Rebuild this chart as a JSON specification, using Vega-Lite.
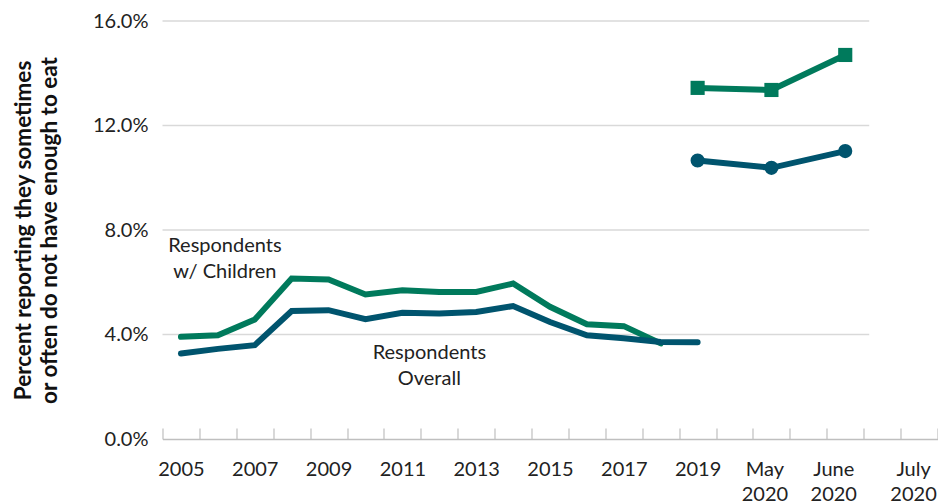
{
  "$schema": "https://vega.github.io/schema/vega-lite/v6.json",
  "width": 775,
  "height": 418,
  "autosize": {"type": "none"},
  "padding": {"left": 162.5, "top": 21, "right": 0.5, "bottom": 65},
  "background": "white",
  "config": {
    "view": {"stroke": null},
    "font": "Lato",
    "text": {"font": "Lato"}
  },
  "datasets": {
    "series": [
      {"period": "2005", "group": "Respondents w/ Children", "survey": "annual", "value": 3.91},
      {"period": "2006", "group": "Respondents w/ Children", "survey": "annual", "value": 3.97},
      {"period": "2007", "group": "Respondents w/ Children", "survey": "annual", "value": 4.57},
      {"period": "2008", "group": "Respondents w/ Children", "survey": "annual", "value": 6.14},
      {"period": "2009", "group": "Respondents w/ Children", "survey": "annual", "value": 6.11},
      {"period": "2010", "group": "Respondents w/ Children", "survey": "annual", "value": 5.53},
      {"period": "2011", "group": "Respondents w/ Children", "survey": "annual", "value": 5.69},
      {"period": "2012", "group": "Respondents w/ Children", "survey": "annual", "value": 5.63},
      {"period": "2013", "group": "Respondents w/ Children", "survey": "annual", "value": 5.63},
      {"period": "2014", "group": "Respondents w/ Children", "survey": "annual", "value": 5.95},
      {"period": "2015", "group": "Respondents w/ Children", "survey": "annual", "value": 5.06},
      {"period": "2016", "group": "Respondents w/ Children", "survey": "annual", "value": 4.39},
      {"period": "2017", "group": "Respondents w/ Children", "survey": "annual", "value": 4.32},
      {"period": "2018", "group": "Respondents w/ Children", "survey": "annual", "value": 3.66},
      {"period": "2005", "group": "Respondents Overall", "survey": "annual", "value": 3.27},
      {"period": "2006", "group": "Respondents Overall", "survey": "annual", "value": 3.45},
      {"period": "2007", "group": "Respondents Overall", "survey": "annual", "value": 3.59},
      {"period": "2008", "group": "Respondents Overall", "survey": "annual", "value": 4.90},
      {"period": "2009", "group": "Respondents Overall", "survey": "annual", "value": 4.93},
      {"period": "2010", "group": "Respondents Overall", "survey": "annual", "value": 4.59},
      {"period": "2011", "group": "Respondents Overall", "survey": "annual", "value": 4.83},
      {"period": "2012", "group": "Respondents Overall", "survey": "annual", "value": 4.80},
      {"period": "2013", "group": "Respondents Overall", "survey": "annual", "value": 4.86},
      {"period": "2014", "group": "Respondents Overall", "survey": "annual", "value": 5.09},
      {"period": "2015", "group": "Respondents Overall", "survey": "annual", "value": 4.48},
      {"period": "2016", "group": "Respondents Overall", "survey": "annual", "value": 3.97},
      {"period": "2017", "group": "Respondents Overall", "survey": "annual", "value": 3.86},
      {"period": "2018", "group": "Respondents Overall", "survey": "annual", "value": 3.71},
      {"period": "2019", "group": "Respondents Overall", "survey": "annual", "value": 3.70},
      {"period": "2019", "group": "Respondents w/ Children", "survey": "pulse", "value": 13.44},
      {"period": "May 2020", "group": "Respondents w/ Children", "survey": "pulse", "value": 13.36},
      {"period": "June 2020", "group": "Respondents w/ Children", "survey": "pulse", "value": 14.70},
      {"period": "2019", "group": "Respondents Overall", "survey": "pulse", "value": 10.66},
      {"period": "May 2020", "group": "Respondents Overall", "survey": "pulse", "value": 10.38},
      {"period": "June 2020", "group": "Respondents Overall", "survey": "pulse", "value": 11.02}
    ],
    "notes": [
      {"text": "Respondents\nw/ Children", "period": "2006", "value": 7.39, "shift": 25.5},
      {"text": "Respondents\nOverall", "period": "2012", "value": 3.29, "shift": 8.5}
    ],
    "grid": [{"level": 4}, {"level": 8}, {"level": 12}, {"level": 16}]
  },
  "encoding": {
    "x": {
      "field": "period",
      "type": "ordinal",
      "scale": {
        "domain": ["2005","2006","2007","2008","2009","2010","2011","2012","2013","2014","2015","2016","2017","2018","2019","Apr 2020","May 2020","Late May 2020","June 2020","Late June 2020","July 2020"],
        "paddingInner": 0,
        "paddingOuter": 0
      },
      "axis": {
        "title": null,
        "domainColor": "#bfbfbf",
        "domainWidth": 1.5,
        "tickColor": "#bfbfbf",
        "tickWidth": 1.2,
        "tickSize": -11,
        "tickBand": "extent",
        "labelPadding": 31,
        "labelAngle": 0,
        "labelOverlap": false,
        "labelFont": "Lato",
        "labelFontSize": 20,
        "labelColor": "#222222",
        "labelLineHeight": 25,
        "labelBaseline": "top",
        "labelOffset": {
          "condition": [
            {"test": "datum.value == 'May 2020'", "value": -7},
            {"test": "datum.value == 'June 2020'", "value": -12},
            {"test": "datum.value == 'July 2020'", "value": -6}
          ],
          "value": 0
        },
        "labelExpr": "indexof(['2005','2007','2009','2011','2013','2015','2017','2019','May 2020','June 2020','July 2020'], datum.value) >= 0 ? split(datum.value, ' ') : ''",
        "grid": false
      }
    },
    "y": {
      "field": "value",
      "type": "quantitative",
      "scale": {"domain": [0, 16], "nice": false, "zero": true},
      "axis": {
        "values": [0, 4, 8, 12, 16],
        "labelExpr": "format(datum.value, '.1f') + '%'",
        "domain": false,
        "ticks": false,
        "grid": false,
        "labelPadding": 14.5,
        "labelFont": "Lato",
        "labelFontSize": 20,
        "labelColor": "#222222",
        "title": ["Percent reporting they sometimes", "or often do not have enough to eat"],
        "titleFont": "Lato",
        "titleFontSize": 22.5,
        "titleFontWeight": "bold",
        "titleColor": "#111111",
        "titleLineHeight": 26,
        "titlePadding": 31
      }
    }
  },
  "layer": [
    {
      "data": {"name": "grid"},
      "mark": {"type": "rule", "color": "#d9d9d9", "strokeWidth": 1.5},
      "encoding": {
        "y": {"field": "level", "type": "quantitative"},
        "x": {"datum": "2005", "type": "ordinal", "bandPosition": 0},
        "x2": {"datum": "Late June 2020", "bandPosition": 0.15}
      }
    },
    {
      "data": {"name": "series"},
      "mark": {"type": "line", "strokeWidth": 6, "strokeCap": "round"},
      "encoding": {
        "color": {
          "field": "group",
          "type": "nominal",
          "scale": {"domain": ["Respondents w/ Children", "Respondents Overall"], "range": ["#007A5C", "#00546E"]},
          "legend": null
        },
        "detail": {"field": "survey"}
      }
    },
    {
      "data": {"name": "series"},
      "transform": [{"filter": "datum.survey == 'pulse'"}],
      "mark": {"type": "point", "filled": true, "opacity": 1, "size": 200},
      "encoding": {
        "color": {"field": "group", "type": "nominal", "legend": null},
        "shape": {
          "field": "group",
          "type": "nominal",
          "scale": {"domain": ["Respondents w/ Children", "Respondents Overall"], "range": ["square", "circle"]},
          "legend": null
        }
      }
    },
    {
      "data": {"name": "notes"},
      "mark": {"type": "text", "font": "Lato", "fontSize": 20, "color": "#222222", "lineBreak": "\n", "lineHeight": 26, "align": "center", "baseline": "middle"},
      "encoding": {
        "x": {"field": "period", "type": "ordinal"},
        "text": {"field": "text"},
        "xOffset": {"field": "shift", "type": "quantitative", "scale": null}
      }
    }
  ]
}
